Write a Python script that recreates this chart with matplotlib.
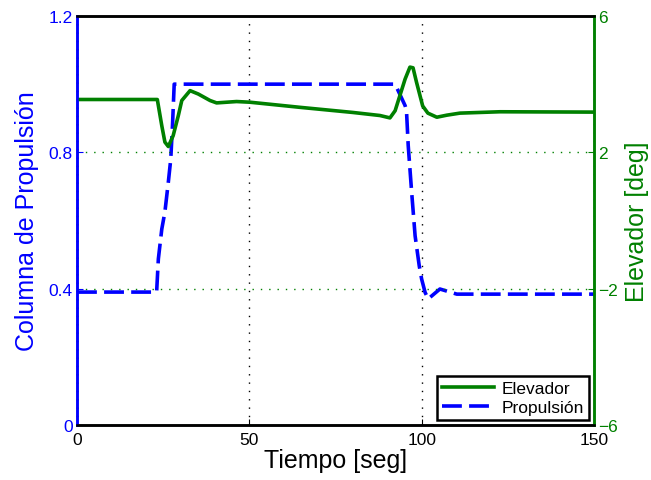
import matplotlib
matplotlib.use('Agg')
import matplotlib.pyplot as plt

# thrust column (left axis) and elevator deflection (right axis) vs time
prop_t = [0, 23.1, 23.6, 24.6, 25.5, 26.5, 27.2, 27.7, 28.2, 92.3, 95.2, 95.6,
          96.1, 97.1, 98.1, 99.3, 100, 101, 101.9, 105.3, 110.2, 150]
prop = [0.39, 0.39, 0.487, 0.575, 0.625, 0.713, 0.78, 0.878, 1.0, 1.0, 0.937, 0.922,
        0.82, 0.683, 0.555, 0.467, 0.428, 0.389, 0.37, 0.399, 0.384, 0.384]

elev_t = [0, 23.3, 24.6, 25.5, 26.5, 27.9, 29.4, 30.4, 32.8, 35.2, 38.6, 40.5,
          46.3, 50.2, 64.7, 80, 87.9, 90.8, 92.3, 95.2, 96.6, 97.5, 98.5, 100.3,
          101.8, 104.4, 107.3, 111.1, 122.7, 150]
elev = [3.55, 3.55, 2.78, 2.30, 2.17, 2.49, 3.08, 3.52, 3.81, 3.71, 3.52, 3.45,
        3.49, 3.47, 3.32, 3.17, 3.08, 3.01, 3.22, 4.15, 4.50, 4.48, 4.06, 3.36,
        3.15, 3.03, 3.09, 3.15, 3.19, 3.18]

x_ticks = [0, 50, 100, 150]
left_ticks = [0, 0.4, 0.8, 1.2]
right_ticks = [-6, -2, 2, 6]

blue = (0, 0, 1)
green = (0, 0.5, 0)

plt.rcParams['font.family'] = ['Liberation Sans', 'DejaVu Sans']

fig = plt.figure(figsize=(6.51, 4.81), dpi=100)
ax1 = fig.add_axes([0.1183, 0.1143, 0.7941, 0.8504])
ax2 = ax1.twinx()

l_prop, = ax1.plot(prop_t, prop, color=blue, lw=2.6, dashes=(5.5, 2.0))
l_elev, = ax2.plot(elev_t, elev, color=green, lw=2.6)

ax1.set_xlim(0, 150)
ax1.set_ylim(0, 1.2)
ax2.set_ylim(-6, 6)
ax1.set_xticks(x_ticks)
ax1.set_yticks(left_ticks)
ax1.set_yticklabels(['0', '0.4', '0.8', '1.2'])
ax2.set_yticks(right_ticks)
ax2.set_yticklabels(['\u22126', '\u22122', '2', '6'])

# grids: vertical black dotted, horizontal green dotted
ax1.grid(axis='x', color='k', ls=(0, (1, 5)), lw=1)
ax1.grid(axis='y', visible=False)
ax2.grid(axis='y', color=green, ls=(0, (1, 5)), lw=1)
ax1.axvline(0, color='k', ls=(0, (1, 5)), lw=1, zorder=3, clip_on=False)

for ax in (ax1, ax2):
    for s in ax.spines.values():
        s.set_linewidth(1.8)
        s.set_color('k')
ax2.spines['left'].set_color(blue)
ax2.spines['right'].set_color(green)
ax1.spines['left'].set_color(blue)
ax1.spines['right'].set_color(green)

ax1.tick_params(axis='x', direction='in', length=4, labelsize=12.5, colors='k', pad=5)
ax1.tick_params(axis='y', direction='in', length=4, labelsize=12.5, colors=blue, pad=3)
ax2.tick_params(axis='y', direction='in', length=4, labelsize=12.5, colors=green, pad=3)

ax1.set_xlabel('Tiempo [seg]', fontsize=18, labelpad=1)
ax1.set_ylabel('Columna de Propulsión', fontsize=18, color=blue, labelpad=7)
ax2.set_ylabel('Elevador [deg]', fontsize=18, color=green, labelpad=5)

leg = ax2.legend([l_elev, l_prop], ['Elevador', 'Propulsión'], loc='lower right',
                 fontsize=12.5, fancybox=False, framealpha=1, edgecolor='k',
                 borderaxespad=0.3, handlelength=3.0, borderpad=0.3,
                 labelspacing=0.2, handletextpad=0.4)
leg.get_frame().set_linewidth(1.8)

fig.savefig('out.png', dpi=100)
